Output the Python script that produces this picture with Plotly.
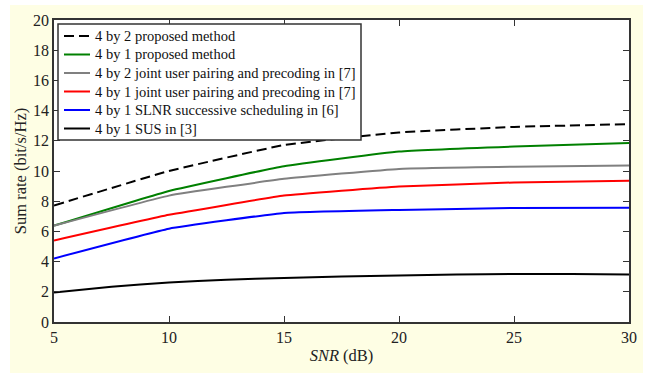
import plotly.graph_objects as go

snr = [5, 10, 15, 20, 25, 30]
prop_4x2 = [7.72, 10.0, 11.72, 12.55, 12.92, 13.1]
prop_4x1 = [6.38, 8.68, 10.32, 11.29, 11.62, 11.85]
joint_4x2 = [6.38, 8.37, 9.48, 10.14, 10.28, 10.36]
joint_4x1 = [5.40, 7.10, 8.37, 8.97, 9.24, 9.36]
slnr_4x1 = [4.21, 6.18, 7.22, 7.42, 7.55, 7.57]
sus_snr = [5, 7.5, 10, 12.5, 15, 17.5, 20, 22.5, 25, 27.5, 30]
sus_4x1 = [1.95, 2.33, 2.62, 2.80, 2.92, 3.01, 3.08, 3.14, 3.18, 3.18, 3.15]

names = [
    "4 by 2 proposed method",
    "4 by 1 proposed method",
    "4 by 2 joint user pairing and precoding in [7]",
    "4 by 1 joint user pairing and precoding in [7]",
    "4 by 1 SLNR successive scheduling in [6]",
    "4 by 1 SUS in [3]",
]

font = "Liberation Serif, Times New Roman, serif"
W, H = 649, 374
ML, MR, MT, MB = 54, 20, 20, 52
PW, PH = W - ML - MR, H - MT - MB


def px(x):
    return (x - ML) / PW


def py(y):
    return (H - MB - y) / PH


fig = go.Figure()
series = [
    (snr, prop_4x2, "#000000", "10px,5px"),
    (snr, prop_4x1, "#008000", "solid"),
    (snr, joint_4x2, "#808080", "solid"),
    (snr, joint_4x1, "#ff0000", "solid"),
    (snr, slnr_4x1, "#0000ff", "solid"),
    (sus_snr, sus_4x1, "#000000", "solid"),
]
for (xs, ys, c, d), n in zip(series, names):
    fig.add_trace(go.Scatter(x=xs, y=ys, mode="lines", name=n, showlegend=False,
                             line=dict(color=c, width=2, dash=d, shape="spline", smoothing=0.3)))

axis_common = dict(showline=True, linecolor="#333333", linewidth=1.5, mirror="allticks",
                   ticks="inside", ticklen=6, tickcolor="#333333", showgrid=False, zeroline=False,
                   tickfont=dict(family=font, size=16, color="#222222"))
fig.update_xaxes(range=[5, 30], tickvals=[5, 10, 15, 20, 25, 30],
                 title=dict(text="<i>SNR</i> (dB)", font=dict(family=font, size=16.5, color="#222222"), standoff=4),
                 **axis_common)
fig.update_yaxes(range=[0, 20], tickvals=list(range(0, 21, 2)),
                 title=dict(text="Sum rate (bit/s/Hz)", font=dict(family=font, size=16.5, color="#222222"), standoff=2),
                 **axis_common)

shapes = [
    dict(type="rect", xref="paper", yref="paper", x0=px(10), x1=px(643), y0=py(373), y1=py(5),
         fillcolor="#fefee4", line=dict(width=0), layer="below"),
    dict(type="rect", xref="paper", yref="paper", x0=0, x1=1, y0=0, y1=1,
         fillcolor="#ffffff", line=dict(width=0), layer="below"),
    # legend box
    dict(type="rect", xref="paper", yref="paper", x0=px(58), x1=px(361), y0=py(140), y1=py(24),
         fillcolor="#ffffff", line=dict(color="#333333", width=1.5), layer="above"),
]
annotations = []
row_y = [36, 54.5, 73, 91.5, 110, 128.5]
for (xs, ys, c, d), n, yy in zip(series, names, row_y):
    shapes.append(dict(type="line", xref="paper", yref="paper", x0=px(64), x1=px(90), y0=py(yy), y1=py(yy),
                       line=dict(color=c, width=2, dash=d), layer="above"))
    annotations.append(dict(xref="paper", yref="paper", x=px(93), y=py(yy), xanchor="left", yanchor="middle",
                            text=n, showarrow=False,
                            font=dict(family=font, size=14.5, color="#111111")))

fig.update_layout(
    width=W, height=H,
    margin=dict(l=ML, r=MR, t=MT, b=MB),
    paper_bgcolor="#ffffff", plot_bgcolor="#ffffff",
    showlegend=False,
    shapes=shapes,
    annotations=annotations,
)
fig.write_html("out.html")
